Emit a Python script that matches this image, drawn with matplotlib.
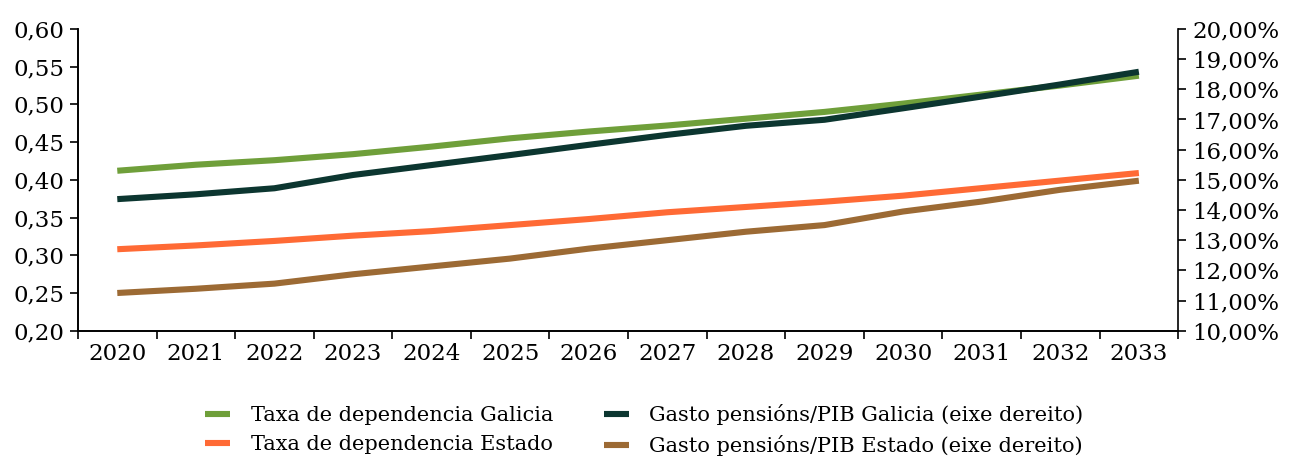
import numpy as np
import matplotlib.pyplot as plt
from matplotlib.ticker import FuncFormatter, FixedLocator

plt.rcParams['font.family'] = ['DejaVu Serif']

anos = [2020, 2021, 2022, 2023, 2024, 2025, 2026, 2027, 2028, 2029, 2030, 2031, 2032, 2033]

# eixe esquerdo
taxa_galicia = [0.412, 0.420, 0.426, 0.434, 0.444, 0.455, 0.464, 0.472, 0.481, 0.490, 0.501, 0.513, 0.525, 0.538]
taxa_estado = [0.308, 0.313, 0.319, 0.326, 0.332, 0.340, 0.348, 0.357, 0.364, 0.371, 0.379, 0.389, 0.399, 0.409]

# eixe dereito (%)
gasto_galicia = [14.36, 14.52, 14.72, 15.16, 15.49, 15.82, 16.16, 16.49, 16.79, 16.99, 17.37, 17.76, 18.16, 18.58]
gasto_estado = [11.25, 11.39, 11.56, 11.87, 12.13, 12.39, 12.72, 13.00, 13.28, 13.50, 13.95, 14.28, 14.67, 14.97]

c_verde = '#6f9f3a'
c_escuro = '#0c3630'
c_laranxa = '#ff6a35'
c_marron = '#9c6a34'

fig = plt.figure(figsize=(12.89, 4.59), dpi=100)
ax = fig.add_axes([0.0605, 0.2795, 0.8535, 0.6575])
ax2 = ax.twinx()

x = np.arange(len(anos))
lw = 4.4
l1, = ax.plot(x, taxa_galicia, color=c_verde, lw=lw, solid_capstyle='butt', label='Taxa de dependencia Galicia')
l2, = ax.plot(x, taxa_estado, color=c_laranxa, lw=lw, solid_capstyle='butt', label='Taxa de dependencia Estado')
l3, = ax2.plot(x, gasto_galicia, color=c_escuro, lw=lw, solid_capstyle='butt', label='Gasto pensións/PIB Galicia (eixe dereito)')
l4, = ax2.plot(x, gasto_estado, color=c_marron, lw=lw, solid_capstyle='butt', label='Gasto pensións/PIB Estado (eixe dereito)')

ax.set_xlim(-0.5, len(anos) - 0.5)
ax.set_ylim(0.20, 0.60)
ax.set_yticks(np.arange(0.20, 0.601, 0.05))
ax.yaxis.set_major_formatter(FuncFormatter(lambda v, p: f'{v:.2f}'.replace('.', ',')))
ax2.set_ylim(10, 20)
ax2.set_yticks(np.arange(10, 20.01, 1))
ax2.yaxis.set_major_formatter(FuncFormatter(lambda v, p: f'{v:.2f}'.replace('.', ',') + '%'))

# ticks nas fronteiras, etiquetas no centro
ax.xaxis.set_major_locator(FixedLocator(np.arange(-0.5, len(anos), 1.0)))
ax.xaxis.set_minor_locator(FixedLocator(x))
ax.set_xticklabels([])
ax.set_xticklabels([str(a) for a in anos], minor=True)
ax.tick_params(axis='x', which='minor', length=0, pad=9, labelsize=16.5)
ax.tick_params(axis='x', which='major', length=6, width=1.2, direction='out')
ax.tick_params(axis='y', length=6, width=1.2, labelsize=16.5, pad=4)
ax2.tick_params(axis='y', length=6, width=1.2, labelsize=16.5, pad=4)

for a in (ax, ax2):
    a.spines['top'].set_visible(False)
    for s in ('left', 'right', 'bottom'):
        a.spines[s].set_linewidth(1.2)
ax.spines['right'].set_visible(False)

fig.legend(handles=[l1, l2, l3, l4], ncol=2, loc='lower center', bbox_to_anchor=(0.5, -0.035),
           frameon=False, fontsize=15, handlelength=1.2, handletextpad=1.0,
           columnspacing=2.4, labelspacing=0.5)

fig.savefig('out.png', dpi=100)
